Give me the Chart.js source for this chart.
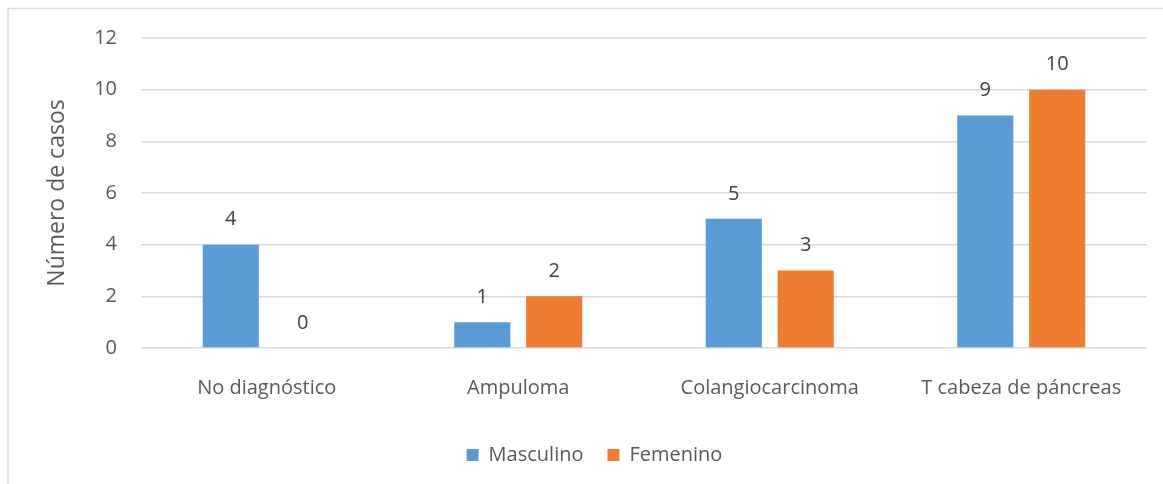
<!DOCTYPE html>
<html>
<head>
<meta charset="utf-8">
<script src="https://cdn.jsdelivr.net/npm/chart.js@4/dist/chart.umd.min.js"></script>
<style>
html,body{margin:0;padding:0;background:#fff;}
#wrap{position:relative;width:1163px;height:484px;}
</style>
</head>
<body>
<div id="wrap"><canvas id="c" width="1163" height="484"></canvas></div>
<script>
const categories = ["No diagnóstico", "Ampuloma", "Colangiocarcinoma", "T cabeza de páncreas"];
const seriesNames = ["Masculino", "Femenino"];
const masculino = [4, 1, 5, 9];
const femenino = [0, 2, 3, 10];
const yTicks = [0, 2, 4, 6, 8, 10, 12];
const axisTitle = "Número de casos";

const FONT = "'Open Sans', 'Noto Sans', sans-serif";

const framePlugin = {
  id: 'frame',
  beforeDraw(chart) {
    const ctx = chart.ctx;
    ctx.save();
    ctx.fillStyle = '#fff';
    ctx.fillRect(0, 0, chart.width, chart.height);
    ctx.strokeStyle = '#D9D9D9';
    ctx.lineWidth = 1.5;
    ctx.beginPath();
    ctx.moveTo(8, chart.height);
    ctx.lineTo(8, 8.5);
    ctx.lineTo(chart.width, 8.5);
    ctx.stroke();
    ctx.restore();
  }
};

const legendShift = {
  id: 'legendShift',
  afterLayout(chart) {
    if (chart.legend) { chart.legend.left += 21; chart.legend.right += 21; }
  }
};

const labelPlugin = {
  id: 'barLabels',
  afterDatasetsDraw(chart) {
    const ctx = chart.ctx;
    ctx.save();
    ctx.font = "20px " + FONT;
    ctx.fillStyle = '#404040';
    ctx.textAlign = 'center';
    ctx.textBaseline = 'middle';
    chart.data.datasets.forEach((ds, i) => {
      const meta = chart.getDatasetMeta(i);
      meta.data.forEach((bar, j) => {
        ctx.fillText(String(ds.data[j]), bar.x, bar.y - 25);
      });
    });
    ctx.restore();
  }
};

new Chart(document.getElementById('c'), {
  type: 'bar',
  data: {
    labels: categories,
    datasets: [
      { label: seriesNames[0], data: masculino, backgroundColor: '#5B9BD5', categoryPercentage: 0.572, barPercentage: 0.78 },
      { label: seriesNames[1], data: femenino, backgroundColor: '#ED7D31', categoryPercentage: 0.572, barPercentage: 0.78 }
    ]
  },
  options: {
    responsive: false,
    animation: false,
    devicePixelRatio: 1,
    layout: { padding: { top: 38, right: 16, bottom: 9, left: 0 } },
    plugins: {
      legend: {
        position: 'bottom',
        labels: {
          boxWidth: 12, boxHeight: 12, padding: 24,
          color: '#595959',
          font: { family: FONT, size: 20 }
        }
      },
      tooltip: { enabled: false }
    },
    scales: {
      x: {
        grid: { display: false, drawTicks: false },
        border: { display: false },
        ticks: { color: '#595959', padding: 28, font: { family: FONT, size: 20 } },
        afterFit(scale) { scale.height = 73; }
      },
      y: {
        min: 0, max: 12,
        afterBuildTicks(scale) { scale.ticks = yTicks.map(v => ({ value: v })); },
        grid: { color: '#D9D9D9', lineWidth: 1.5, drawTicks: false },
        border: { display: false },
        ticks: { color: '#595959', padding: 24, font: { family: FONT, size: 20 } },
        title: {
          display: true, text: axisTitle, color: '#595959',
          font: { family: FONT, size: 23 }, padding: { top: 44, bottom: 0 }
        },
        afterFit(scale) { scale.width = 141; }
      }
    }
  },
  plugins: [framePlugin, legendShift, labelPlugin]
});
</script>
</body>
</html>
